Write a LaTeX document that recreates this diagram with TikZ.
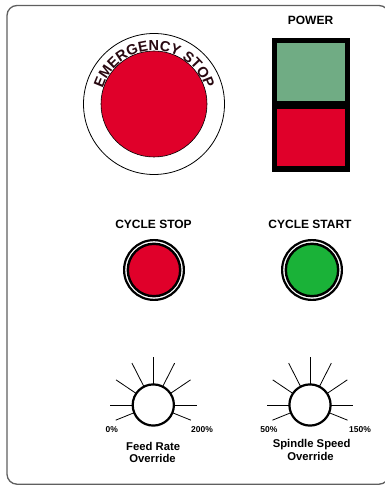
\documentclass[tikz,border=0pt]{standalone}
\usepackage{fontspec}
\setmainfont{Liberation Sans}
\usetikzlibrary{decorations.text}
\definecolor{btnred}{RGB}{224,0,42}
\definecolor{pwrgreen}{RGB}{112,172,132}
\definecolor{btngreen}{RGB}{26,178,56}
\definecolor{framegray}{RGB}{95,95,95}
\definecolor{estext}{RGB}{40,8,16}
\begin{document}
\begin{tikzpicture}[x=1pt,y=1pt,
  lbl/.style={font=\bfseries\fontsize{12}{12}\selectfont, inner sep=0pt},
  pct/.style={font=\bfseries\fontsize{8.5}{8.5}\selectfont, inner sep=0pt},
  knoblbl/.style={font=\bfseries\fontsize{11.3}{11.3}\selectfont, inner sep=0pt, anchor=base},
  tick/.style={line width=0.8pt},
  knobring/.style={line width=2.2pt, fill=white},
  ringline/.style={line width=2.2pt},
  capline/.style={line width=2.4pt}
]
\useasboundingbox (0,0) rectangle (385,485);
% panel frame
\draw[framegray, line width=1.3pt, rounded corners=10pt] (7,0.8) rectangle (389,479.5);

% emergency stop
\coordinate (es) at (154,381);
\draw[line width=0.8pt] (es) circle[radius=70.5];
\draw[fill=btnred, line width=0.6pt] (es) circle[radius=53];
\path[decorate, decoration={text along path,
   text={|\color{estext}\bfseries\fontsize{14.5}{14.5}\selectfont|EMERGENCY STOP},
   text align={fit to path}}]
   (es) ++(163:53.5) arc[start angle=163, end angle=17, radius=53.5];

% power switch
\node[lbl] (power) at (310.5,464.5) {POWER};
\fill[black] (272,313) rectangle (350,447);
\fill[pwrgreen] (277,384) rectangle (345,442);
\fill[btnred] (277,319) rectangle (345,376);

% cycle buttons
\node[lbl] (cstop) at (153.5,261) {CYCLE STOP};
\node[lbl] (cstart) at (310,261) {CYCLE START};
\coordinate (bstop) at (154,215);
\coordinate (bstart) at (312,215);
\draw[ringline] (bstop) circle[radius=29.9];
\draw[capline, fill=btnred] (bstop) circle[radius=26.2];
\draw[ringline] (bstart) circle[radius=29.9];
\draw[capline, fill=btngreen] (bstart) circle[radius=26.2];

% knobs
\coordinate (kf) at (153.3,80);
\coordinate (ks) at (310,80);
\foreach \k in {kf,ks}{
  \foreach \a/\r in {90/48,63/47,117/47,34/45,146/45,0/43.3,180/43.3,-22/40.5,202/40.5}{
    \draw[tick] ([shift={(\a:20)}]\k) -- ([shift={(\a:\r)}]\k);
  }
  \draw[knobring] (\k) circle[radius=20.6];
}
\node[pct] (p0) at (111.7,55.5) {0\%};
\node[pct] (p200) at (202,55.5) {200\%};
\node[pct] (p50) at (269,55.5) {50\%};
\node[pct] (p150) at (360,55.5) {150\%};

\node[knoblbl] (fr1) at (153.2,34.3) {Feed Rate};
\node[knoblbl] (fr2) at (152.5,22) {Override};
\node[knoblbl] (ss1) at (311.7,37) {Spindle Speed};
\node[knoblbl] (ss2) at (310.5,24.3) {Override};
\end{tikzpicture}
\end{document}
